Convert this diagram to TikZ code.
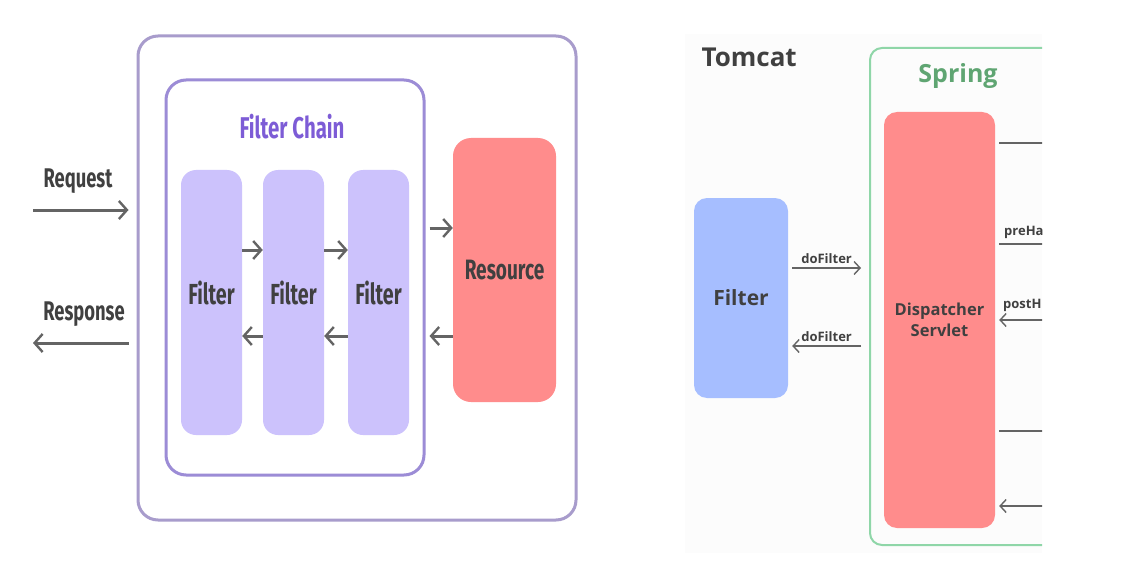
\documentclass[tikz,border=0pt]{standalone}
\usepackage{fontspec}
\usepackage{tikz}
\usetikzlibrary{arrows.meta,calc}

\newfontfamily\condfont[FakeStretch=0.68]{Fira Sans}
\newfontfamily\opensans{Open Sans}

\definecolor{outerline}{RGB}{168,156,204}
\definecolor{chainline}{RGB}{156,140,214}
\definecolor{chaintitle}{RGB}{125,92,214}
\definecolor{filterfill}{RGB}{204,194,252}
\definecolor{resfill}{RGB}{255,140,140}
\definecolor{bluefill}{RGB}{166,190,255}
\definecolor{springline}{RGB}{143,214,168}
\definecolor{springtext}{RGB}{95,165,114}
\definecolor{tomcatbg}{RGB}{252,252,252}
\definecolor{txt}{RGB}{64,64,64}
\definecolor{arrowgray}{RGB}{100,100,100}

\tikzset{
  leftfont/.style={font=\condfont\bfseries\fontsize{#1}{#1}\selectfont, text=txt},
  rightfont/.style={font=\opensans\bfseries\fontsize{#1}{#1}\selectfont, text=txt},
  filterbox/.style={fill=filterfill, rounded corners=15pt, inner sep=0pt,
    minimum width=61pt, minimum height=265pt},
  bigarrow/.style={draw=arrowgray, line width=3pt,
    -{Straight Barb[length=8pt,width=18pt,line width=2.4pt]}},
  smallarrow/.style={draw=arrowgray, line width=1.6pt,
    -{Straight Barb[length=6pt,width=13pt,line width=1.4pt]}},
  plainline/.style={draw=arrowgray, line width=1.6pt}
}

\begin{document}
\begin{tikzpicture}[x=1pt,y=-1pt]
\useasboundingbox[fill=white] (0,0) rectangle (1126,580);

%% left: filter chain
\node[draw=outerline, line width=3pt, rounded corners=20pt, minimum width=438pt,
  minimum height=484pt] (outer) at (357,278) {};
\node[draw=chainline, line width=3pt, rounded corners=20pt, minimum width=258pt,
  minimum height=395pt] (chain) at (295,277.5) {};
\node[leftfont=30, text=chaintitle] (chaintitle) at (292,127) {Filter Chain};

\node[filterbox] (fa) at (211.5,302.5) {};  %% first
\node[filterbox] (fb) at (293.5,302.5) {};  %% second
\node[filterbox] (fc) at (378.5,302.5) {};  %% third
\node[leftfont=29] (fat) at (211.5,293) {Filter};
\node[leftfont=29] (fbt) at (293.5,293) {Filter};
\node[leftfont=29] (fct) at (378.5,293) {Filter};

\node[fill=resfill, rounded corners=18pt, minimum width=103pt, minimum height=264pt,
  leftfont=28] (res) at (504.5,270) {Resource};

\node[leftfont=27] (req) at (78,181) {Request};
\node[leftfont=27] (resp) at (84,314) {Response};
\coordinate (reqs) at (33,210);
\coordinate (resps) at (33,343);

%% left: arrows
\draw[bigarrow] (reqs) -- ($(outer.west |- reqs)+(-8,0)$);
\draw[bigarrow] ($(outer.west |- resps)+(-8,0)$) -- (resps);
\draw[bigarrow] (fa.east |- 0,250) -- (fb.west |- 0,250);
\draw[bigarrow] (fb.east |- 0,250) -- (fc.west |- 0,250);
\draw[bigarrow] (fb.west |- 0,336) -- (fa.east |- 0,336);
\draw[bigarrow] (fc.west |- 0,336) -- (fb.east |- 0,336);
\draw[bigarrow] ($(chain.east |- 0,228)+(4,0)$) -- (res.west |- 0,228);
\draw[bigarrow] (res.west |- 0,336) -- ($(chain.east |- 0,336)+(4,0)$);

%% right: tomcat / spring
\fill[tomcatbg] (685,34) rectangle (1042,553);
\node[rightfont=26, anchor=west] (tomcat) at (698,57) {Tomcat};

\begin{scope}
\clip (685,34) rectangle (1042,553);
\node[draw=springline, line width=2pt, rounded corners=12pt, minimum width=290pt,
  minimum height=497pt] (spring) at (1015,296.5) {};
\node[rightfont=25, text=springtext] (springt) at (958,76) {Spring};

\node[fill=bluefill, rounded corners=13pt, minimum width=94pt, minimum height=200pt,
  rightfont=21] (blue) at (741,298) {Filter};
\node[fill=resfill, rounded corners=13pt, minimum width=111pt, minimum height=416pt,
  rightfont=16.5, align=center] (disp) at (939.5,320) {Dispatcher\\[5pt]Servlet};

\draw[smallarrow] ($(blue.east |- 0,268)+(4,0)$) -- ($(spring.west |- 0,268)+(-8,0)$)
  node[midway, above, rightfont=13] (df1) {doFilter};
\draw[smallarrow] ($(spring.west |- 0,346)+(-8,0)$) -- ($(blue.east |- 0,346)+(4,0)$)
  node[midway, above, rightfont=13] (df2) {doFilter};

\coordinate (ra) at (1060,143);
\coordinate (rb) at (1060,244);
\coordinate (rc) at (1060,320);
\coordinate (rd) at (1060,431);
\coordinate (re) at (1060,506);
\draw[plainline] ($(disp.east |- ra)+(4,0)$) -- (ra);
\draw[plainline] ($(disp.east |- rb)+(4,0)$) -- (rb);
\draw[smallarrow] (rc) -- ($(disp.east |- rc)+(4,0)$);
\draw[plainline] ($(disp.east |- rd)+(4,0)$) -- (rd);
\draw[smallarrow] (re) -- ($(disp.east |- re)+(4,0)$);
\node[rightfont=13, anchor=west, inner sep=0pt] (pre) at (1004,232) {preHa};
\node[rightfont=13, anchor=west, inner sep=0pt] (post) at (1003,305) {postH};
\end{scope}

\end{tikzpicture}
\end{document}
